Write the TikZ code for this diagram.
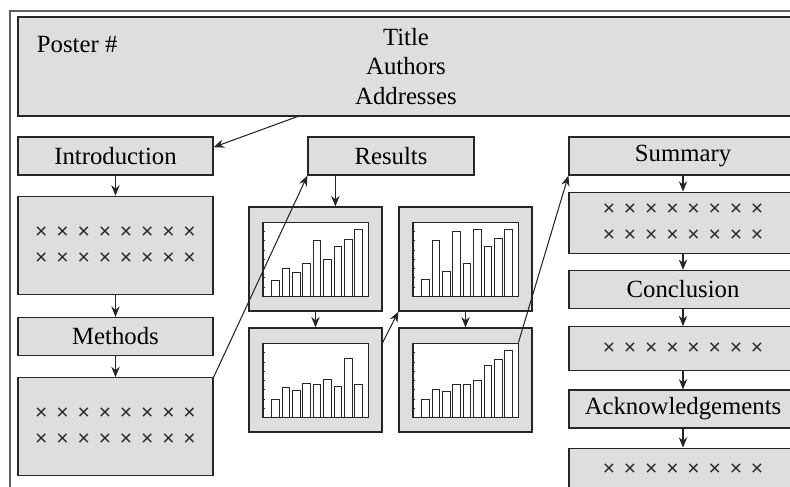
\documentclass[tikz,border=0pt]{standalone}
\usepackage{fontspec}
\setmainfont{Liberation Serif}
\newfontfamily\crossfont{Liberation Sans}
\usepackage{tikz}
\usetikzlibrary{arrows.meta,positioning,calc}
\definecolor{pbgris}{RGB}{221,222,224}
\definecolor{pbtrait}{RGB}{38,38,38}
\definecolor{pbcadre}{RGB}{95,95,95}
\definecolor{pbcroix}{RGB}{40,40,40}

\begin{document}
\begin{tikzpicture}[
  box/.style={draw=pbtrait, fill=pbgris, line width=0.9pt, inner sep=0pt,
              font=\fontsize{17.6}{21.3}\selectfont},
  heading/.style={box, minimum height=0.95cm},
  textbody/.style={box, align=center, text=pbcroix,
                   font=\crossfont\fontsize{15}{18.5}\selectfont,
                   execute at begin node={\spaceskip=6.3pt\relax}},
  chart/.style={box, minimum width=3.325cm, minimum height=2.6cm},
  plotarea/.style={draw=pbtrait, fill=white, line width=0.6pt, inner sep=0pt,
                   minimum width=2.625cm, minimum height=1.85cm},
  arr/.style={-{Stealth[length=2.6mm,width=2.1mm]}, pbtrait, line width=0.75pt}
]
  \useasboundingbox (0,0) rectangle (19.75,12.15);
  \clip (0,0) rectangle (19.75,12.15);

  % Poster frame and title banner
  \draw[pbcadre, line width=1.1pt] (0.25,-0.5) -- (0.25,11.875) -- (20.5,11.875);
  \node[box, minimum width=19.4cm, minimum height=2.475cm, align=center] (title) at (10.15,10.4875)
    {Title\\Authors\\Addresses};
  \node[anchor=west, font=\fontsize{17.6}{21.3}\selectfont] (poster) at (0.8,11.025) {Poster \#};

  % Left column
  \node[heading, minimum width=4.875cm] (intro) at (2.8875,8.25) {Introduction};
  \node[textbody, minimum width=4.875cm, minimum height=2.45cm, below=0.5cm of intro] (introtxt)
    {× × × × × × × ×\\× × × × × × × ×};
  \node[heading, minimum width=4.875cm, below=0.55cm of introtxt] (methods) {Methods};
  \node[textbody, minimum width=4.875cm, minimum height=2.45cm, below=0.525cm of methods] (methodstxt)
    {× × × × × × × ×\\× × × × × × × ×};

  % Results and charts
  \node[heading, minimum width=4.15cm] (results) at (9.775,8.25) {Results};
  \foreach \c/\x/\y/\hs in {1/7.8875/5.675/{.22,.38,.33,.44,.76,.50,.67,.77,.91},
                            2/11.6375/5.675/{.235,.75,.34,.88,.45,.90,.67,.78,.91},
                            3/7.8875/2.65/{.24,.40,.37,.46,.45,.51,.42,.80,.45},
                            4/11.6375/2.65/{.24,.38,.35,.45,.45,.50,.70,.79,.90}} {
    \node[chart] (c\c) at (\x,\y) {};
    \node[plotarea] (p\c) at (c\c) {};
    \foreach \h [count=\i] in \hs
      \draw[pbtrait, fill=white, line width=0.6pt]
        ($(p\c.south west)+(0.225+0.26*\i-0.26,0)$) rectangle ++(0.19,1.85*\h);
    \foreach \k in {1,...,7}
      \draw[pbtrait, line width=0.6pt] ($(p\c.south west)+(0,1.85*\k/8)$) -- ++(0.07,0);
    \draw[pbtrait, line width=1.1pt] (p\c.north west) -- (p\c.south west) -- (p\c.south east);
  }

  % Right column
  \node[heading, minimum width=5.7cm] (summary) at (17.075,8.25) {Summary};
  \node[textbody, minimum width=5.7cm, minimum height=1.525cm, below=0.4cm of summary] (summarytxt)
    {× × × × × × × ×\\× × × × × × × ×};
  \node[heading, minimum width=5.7cm, below=0.4cm of summarytxt] (conclusion) {Conclusion};
  \node[textbody, minimum width=5.7cm, minimum height=1.1cm, below=0.425cm of conclusion] (conclusiontxt)
    {× × × × × × × ×};
  \node[heading, minimum width=5.7cm, below=0.45cm of conclusiontxt] (ack) {Acknowledgements};
  \node[textbody, minimum width=5.7cm, minimum height=1.075cm, below=0.475cm of ack] (acktxt)
    {× × × × × × × ×};

  % Reading order
  \draw[arr] ($(title.south west)+(7.0,0)$) -- ($(intro.east)+(0,0.22)$);
  \draw[arr] (intro) -- (introtxt);
  \draw[arr] (introtxt) -- (methods);
  \draw[arr] (methods) -- (methodstxt);
  \draw[arr] (methodstxt.north east) -- (results.south west);
  \coordinate (resout) at ($(results.south west)+(0.7,0)$);
  \draw[arr] (resout) -- (resout |- c1.north);
  \draw[arr] (c1) -- (c3);
  \draw[arr] (c3.east |- p3.north) -- (c2.south west);
  \draw[arr] (c2) -- (c4);
  \draw[arr] (p4.north east) -- (summary.south west);
  \draw[arr] (summary) -- (summarytxt);
  \draw[arr] (summarytxt) -- (conclusion);
  \draw[arr] (conclusion) -- (conclusiontxt);
  \draw[arr] (conclusiontxt) -- (ack);
  \draw[arr] (ack) -- (acktxt);
\end{tikzpicture}
\end{document}
